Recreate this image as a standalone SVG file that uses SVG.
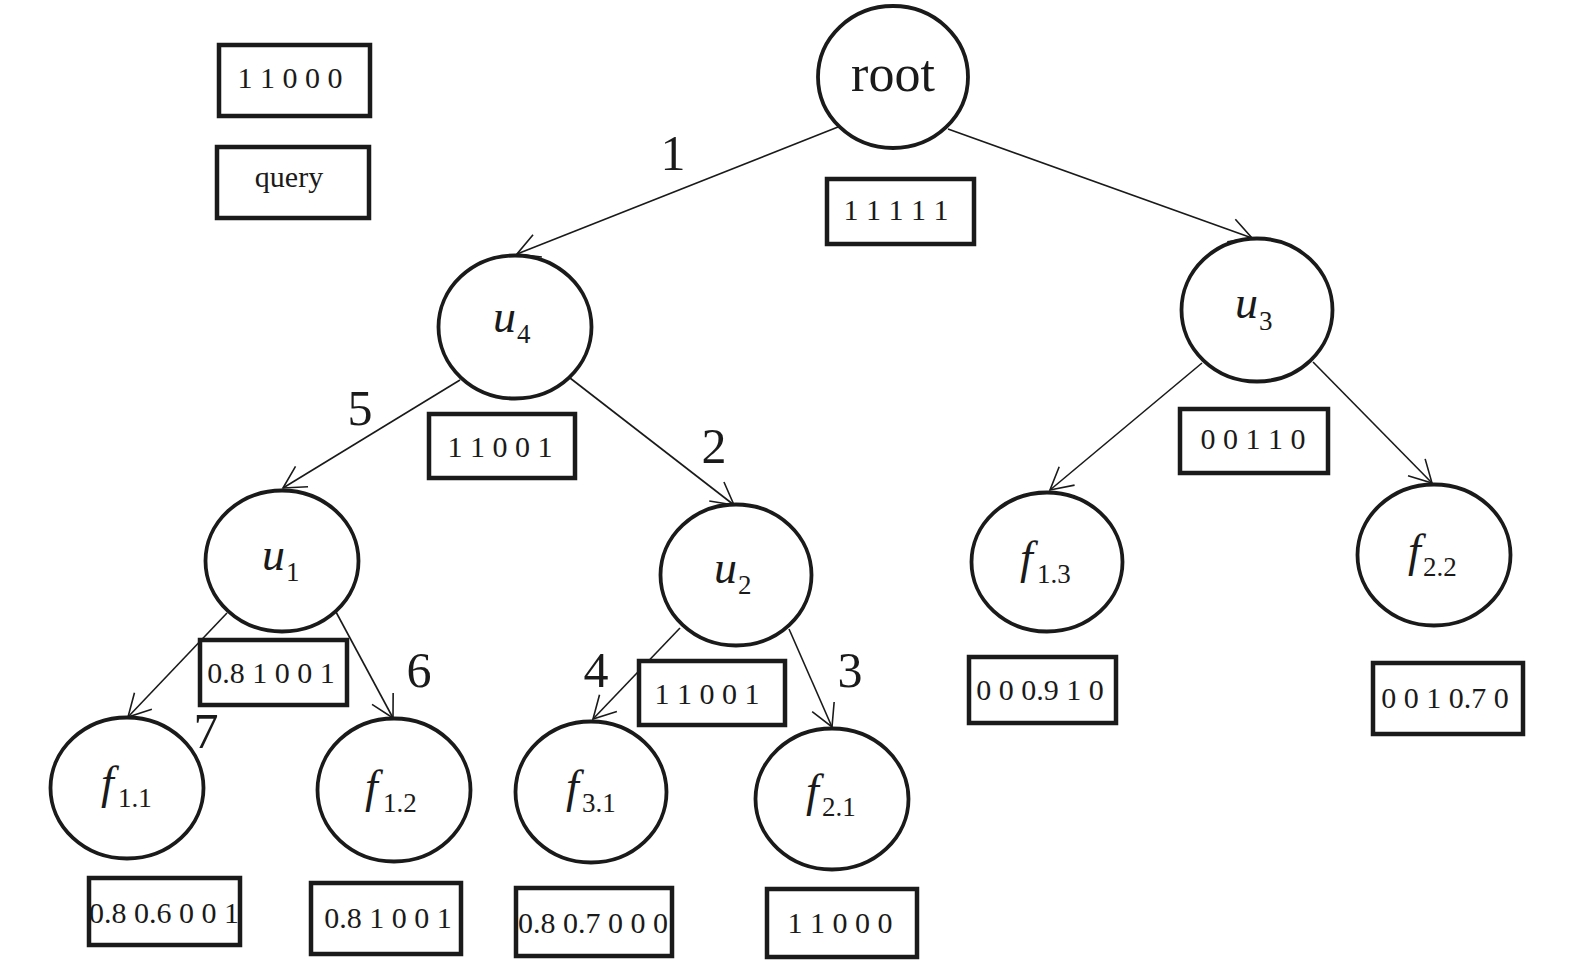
<svg xmlns="http://www.w3.org/2000/svg" width="1575" height="965" viewBox="0 0 1575 965">
<style>
.nd{fill:#fff;stroke:#1a1a1a;stroke-width:3.8}
.bx{fill:#fff;stroke:#1a1a1a;stroke-width:4.5}
.bt{font-family:"Liberation Serif","Times New Roman",serif;font-size:30px;fill:#1a1a1a;text-anchor:middle}
.lb{font-family:"Liberation Serif","Times New Roman",serif;font-size:46px;font-style:italic;fill:#1a1a1a}
.sb{font-size:27px;font-style:normal}
.el{font-family:"Liberation Serif","Times New Roman",serif;font-size:50px;fill:#1a1a1a;text-anchor:middle}
.ed{stroke:#1a1a1a;stroke-width:1.6;fill:none;marker-end:url(#ah)}
</style>
<defs>
<marker id="ah" markerUnits="userSpaceOnUse" orient="auto" refX="0" refY="0" markerWidth="40" markerHeight="40" viewBox="-30 -20 40 40" overflow="visible">
<path d="M-22,-12 L0,0 L-22,12" fill="none" stroke="#1a1a1a" stroke-width="1.6"/>
</marker>
</defs>
<rect width="1575" height="965" fill="#fff"/>
<g id="connectors">
<line class="ed" x1="838" y1="127" x2="517" y2="254"/>
<line class="ed" x1="948" y1="129" x2="1252" y2="238"/>
<line class="ed" x1="460" y1="380" x2="283" y2="488"/>
<line class="ed" x1="570" y1="378" x2="734" y2="505"/>
<line class="ed" x1="1202" y1="363" x2="1050" y2="490"/>
<line class="ed" x1="1313" y1="362" x2="1432" y2="483"/>
<line class="ed" x1="227" y1="613" x2="128" y2="717"/>
<line class="ed" x1="336" y1="612" x2="393" y2="718"/>
<line class="ed" x1="680" y1="628" x2="593" y2="719"/>
<line class="ed" x1="789" y1="629" x2="832" y2="727"/>
<text class="el" x="673" y="170">1</text>
<text class="el" x="360" y="425">5</text>
<text class="el" x="714" y="463">2</text>
<text class="el" x="596" y="687">4</text>
<text class="el" x="850" y="687">3</text>
<text class="el" x="419" y="687">6</text>
<text class="el" x="206" y="748">7</text>
</g>
<g id="legend-vector">
<rect class="bx" x="219" y="45" width="151" height="71"/>
<text class="bt" x="290" y="88">1 1 0 0 0</text>
</g>
<g id="legend-query">
<rect class="bx" x="217" y="147" width="152" height="71"/>
<text class="bt" x="289" y="187">query</text>
</g>
<g id="node-root">
<ellipse class="nd" cx="893" cy="77" rx="75" ry="71"/>
<text x="893" y="91" font-family="'Liberation Serif','Times New Roman',serif" font-size="52" fill="#1a1a1a" text-anchor="middle">root</text>
<rect class="bx" x="827" y="179" width="147" height="65"/>
<text class="bt" x="896" y="220">1 1 1 1 1</text>
</g>
<g id="node-u4">
<ellipse class="nd" cx="515" cy="327" rx="76.5" ry="71.5"/>
<text class="lb" x="493" y="332">u<tspan class="sb" x="517" y="343">4</tspan></text>
<rect class="bx" x="429" y="414" width="146" height="64"/>
<text class="bt" x="500" y="457">1 1 0 0 1</text>
</g>
<g id="node-u3">
<ellipse class="nd" cx="1257" cy="310" rx="75.5" ry="71.5"/>
<text class="lb" x="1235" y="318">u<tspan class="sb" x="1259" y="330">3</tspan></text>
<rect class="bx" x="1180" y="409" width="148" height="64"/>
<text class="bt" x="1253" y="449">0 0 1 1 0</text>
</g>
<g id="node-u1">
<ellipse class="nd" cx="282" cy="561" rx="76.5" ry="70.5"/>
<text class="lb" x="262" y="570">u<tspan class="sb" x="286" y="581">1</tspan></text>
<rect class="bx" x="200" y="640" width="147" height="65"/>
<text class="bt" x="271" y="683">0.8 1 0 0 1</text>
</g>
<g id="node-u2">
<ellipse class="nd" cx="736" cy="575" rx="75.5" ry="70.5"/>
<text class="lb" x="714" y="583">u<tspan class="sb" x="738" y="594">2</tspan></text>
<rect class="bx" x="639" y="661" width="146" height="64"/>
<text class="bt" x="707" y="704">1 1 0 0 1</text>
</g>
<g id="node-f11">
<ellipse class="nd" cx="127" cy="788" rx="76.5" ry="70.5"/>
<text class="lb" x="101" y="798">f<tspan class="sb" x="118" y="807">1.1</tspan></text>
<rect class="bx" x="89" y="878" width="151" height="67"/>
<text class="bt" x="164" y="923">0.8 0.6 0 0 1</text>
</g>
<g id="node-f12">
<ellipse class="nd" cx="394" cy="790" rx="76.5" ry="71.5"/>
<text class="lb" x="365" y="802">f<tspan class="sb" x="383" y="812">1.2</tspan></text>
<rect class="bx" x="311" y="883" width="150" height="71"/>
<text class="bt" x="388" y="928">0.8 1 0 0 1</text>
</g>
<g id="node-f31">
<ellipse class="nd" cx="591" cy="792" rx="75.5" ry="70.5"/>
<text class="lb" x="566" y="802">f<tspan class="sb" x="582" y="812">3.1</tspan></text>
<rect class="bx" x="516" y="888" width="156" height="68"/>
<text class="bt" x="593" y="933">0.8 0.7 0 0 0</text>
</g>
<g id="node-f21">
<ellipse class="nd" cx="832" cy="799" rx="76.5" ry="70.5"/>
<text class="lb" x="806" y="806">f<tspan class="sb" x="822" y="816">2.1</tspan></text>
<rect class="bx" x="767" y="889" width="150" height="68"/>
<text class="bt" x="840" y="933">1 1 0 0 0</text>
</g>
<g id="node-f13">
<ellipse class="nd" cx="1047" cy="562" rx="75.5" ry="69.5"/>
<text class="lb" x="1020" y="573">f<tspan class="sb" x="1037" y="583">1.3</tspan></text>
<rect class="bx" x="969" y="657" width="147" height="66"/>
<text class="bt" x="1040" y="700">0 0 0.9 1 0</text>
</g>
<g id="node-f22">
<ellipse class="nd" cx="1434" cy="555" rx="76.5" ry="70.5"/>
<text class="lb" x="1408" y="566">f<tspan class="sb" x="1423" y="576">2.2</tspan></text>
<rect class="bx" x="1373" y="663" width="150" height="71"/>
<text class="bt" x="1445" y="708">0 0 1 0.7 0</text>
</g>
</svg>
